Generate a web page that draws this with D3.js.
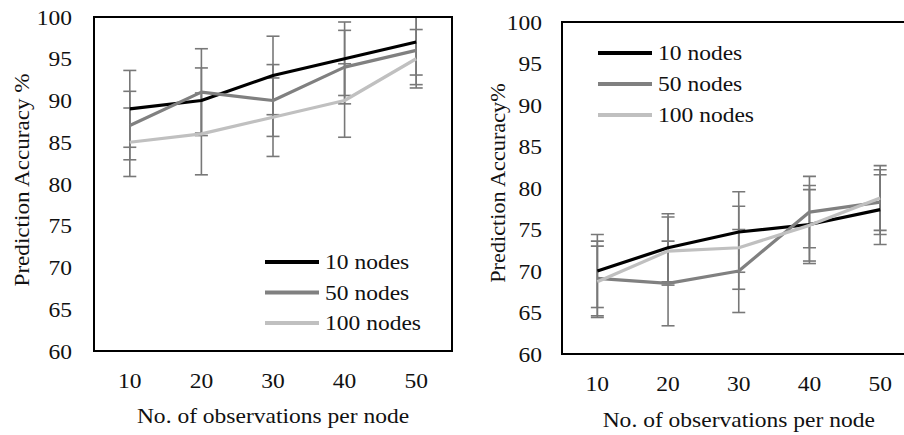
<!DOCTYPE html>
<html>
<head>
<meta charset="utf-8">
<script src="https://cdn.jsdelivr.net/npm/d3@7/dist/d3.min.js"></script>
</head>
<body style="margin:0">
<svg id="chart" width="904" height="435" font-family="Liberation Serif" style="display:block"></svg>
<script>
// ---- Data ----
const categories = [10, 20, 30, 40, 50];
const yTicks = [60, 65, 70, 75, 80, 85, 90, 95, 100];
const seriesNames = ["10 nodes", "50 nodes", "100 nodes"];

// Left panel: mean accuracy (%) and error (±)
const leftAcc10  = [89, 90, 93, 95, 97];
const leftAcc50  = [87, 91, 90, 94, 96];
const leftAcc100 = [85, 86, 88, 90, 95];
const leftErr10  = [4.6, 3.9, 4.7, 4.4, 3.95];
const leftErr50  = [4.1, 5.2, 4.3, 4.4, 4.1];
const leftErr100 = [4.1, 4.9, 4.7, 4.4, 3.5];

// Right panel
const rightAcc10  = [70.0, 72.8, 74.7, 75.6, 77.4];
const rightAcc50  = [69.1, 68.5, 70.0, 77.1, 78.3];
const rightAcc100 = [68.7, 72.4, 72.8, 75.5, 78.8];
const rightErr10  = [4.4, 4.1, 4.85, 4.7, 4.2];
const rightErr50  = [4.5, 5.1, 5.0, 4.3, 3.9];
const rightErr100 = [4.3, 4.1, 5.0, 4.3, 3.9];

const xTitle = "No. of observations per node";

// ---- Styles ----
const lineColors = ["#000000", "#808080", "#c0c0c0"];
const errColor = "#787878";
const FS = 21;
const SX = 1.12;   // horizontal glyph stretch seen in the reference

const svg = d3.select("#chart");

function drawPanel(p) {
  const x = d3.scaleBand().domain(categories).range([p.left, p.right]).padding(0);
  const y = d3.scaleLinear().domain([60, 100]).range([p.bottom, p.top]);
  const cx = c => x(c) + x.bandwidth() / 2;
  const g = svg.append("g");

  const clipId = "clip" + p.id;
  svg.append("clipPath").attr("id", clipId)
    .append("rect").attr("x", p.left).attr("y", p.top)
    .attr("width", p.right - p.left).attr("height", p.bottom - p.top);

  // Y axis tick labels
  const yAxis = d3.axisLeft(y).tickValues(yTicks).tickSize(0).tickPadding(0).tickFormat(d3.format("d"));
  const ya = g.append("g").attr("transform", `translate(${p.yLabelX},0)`).call(yAxis)
    .attr("font-family", "Liberation Serif").attr("font-size", FS);
  ya.select(".domain").remove();
  ya.selectAll("text")
    .attr("dy", "0.34em").attr("x", 0).attr("transform", `scale(${SX},1)`);

  // X axis tick labels
  const xAxis = d3.axisBottom(x).tickSize(0).tickPadding(0);
  const xa = g.append("g").attr("transform", `translate(0,${p.xLabelY})`).call(xAxis)
    .attr("font-family", "Liberation Serif").attr("font-size", FS);
  xa.select(".domain").remove();
  xa.selectAll("text")
    .attr("dy", 0).attr("y", 0).attr("transform", `scale(${SX},1)`);

  // Error bars
  const eb = g.append("g").attr("clip-path", `url(#${clipId})`);
  const capHalf = 6.5;
  p.series.forEach((s) => {
    s.values.forEach((v, i) => {
      const c = categories[i];
      const lo = v - s.errors[i], hi = v + s.errors[i];
      eb.append("line").attr("x1", cx(c)).attr("x2", cx(c))
        .attr("y1", y(lo)).attr("y2", y(hi))
        .attr("stroke", errColor).attr("stroke-width", 1.6);
      [lo, hi].forEach(e => {
        if (e <= 100 && e >= 60) {
          eb.append("line").attr("x1", cx(c) - capHalf).attr("x2", cx(c) + capHalf)
            .attr("y1", y(e)).attr("y2", y(e))
            .attr("stroke", errColor).attr("stroke-width", 1.6);
        }
      });
    });
  });

  // Lines
  const line = d3.line().x((d, i) => cx(categories[i])).y(d => y(d));
  p.series.forEach((s, k) => {
    g.append("path").datum(s.values).attr("d", line)
      .attr("fill", "none").attr("stroke", lineColors[k]).attr("stroke-width", 3.2)
      .attr("stroke-linejoin", "round");
  });

  // Frame
  g.append("rect").attr("x", p.left).attr("y", p.top)
    .attr("width", p.right - p.left).attr("height", p.bottom - p.top)
    .attr("fill", "none").attr("stroke", "#000").attr("stroke-width", 2);

  // Legend
  const lg = g.append("g");
  seriesNames.forEach((n, k) => {
    const ly = p.legendY + k * p.legendStep;
    lg.append("line").attr("x1", p.legendX).attr("x2", p.legendX + 54)
      .attr("y1", ly).attr("y2", ly)
      .attr("stroke", lineColors[k]).attr("stroke-width", 4);
    lg.append("text")
      .attr("transform", `translate(${p.legendX + 60},${ly}) scale(${SX},1)`)
      .attr("dy", "0.34em").attr("font-size", FS).text(n);
  });

  // Axis titles
  g.append("text")
    .attr("transform", `translate(${(p.left + p.right) / 2},${p.xTitleY}) scale(${SX},1)`)
    .attr("text-anchor", "middle").attr("font-size", FS).text(xTitle);
  g.append("text")
    .attr("transform", `translate(${p.yTitleX},${p.yTitleY}) rotate(-90) scale(${p.yTitleSX},1)`)
    .attr("text-anchor", "middle").attr("dy", "0.34em").attr("font-size", FS)
    .text(p.yTitle);
}

drawPanel({
  id: "L", left: 94, right: 452, top: 17, bottom: 351,
  yLabelX: 72, xLabelY: 388, xTitleY: 423,
  legendX: 265, legendY: 262, legendStep: 30.5,
  yTitleX: 22, yTitleY: 180, yTitleSX: 1.1, yTitle: "Prediction  Accuracy %",
  series: [
    { values: leftAcc10, errors: leftErr10 },
    { values: leftAcc50, errors: leftErr50 },
    { values: leftAcc100, errors: leftErr100 }
  ]
});

drawPanel({
  id: "R", left: 562, right: 915.5, top: 22, bottom: 354,
  yLabelX: 542, xLabelY: 391, xTitleY: 427,
  legendX: 598, legendY: 53, legendStep: 31,
  yTitleX: 498, yTitleY: 183, yTitleSX: 1.06, yTitle: "Prediction  Accuracy%",
  series: [
    { values: rightAcc10, errors: rightErr10 },
    { values: rightAcc50, errors: rightErr50 },
    { values: rightAcc100, errors: rightErr100 }
  ]
});

// Serif font on every text element
svg.selectAll("text")
  .attr("font-family", "Liberation Serif")
  .style("font-family", '"Liberation Serif"')
  .attr("fill", "#111");
</script>
</body>
</html>
